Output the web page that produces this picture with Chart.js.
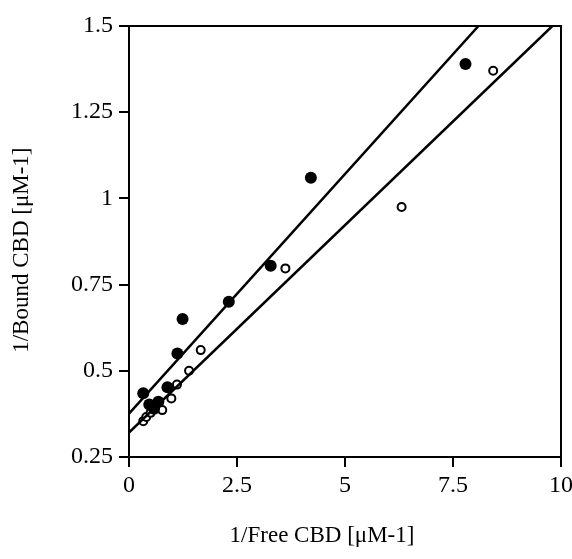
<!DOCTYPE html>
<html>
<head>
<meta charset="utf-8">
<script src="https://cdn.jsdelivr.net/npm/chart.js@4/dist/chart.umd.min.js"></script>
<style>
html,body{margin:0;padding:0;background:#fff;}
#wrap{width:572px;height:559px;position:relative;}
</style>
</head>
<body>
<div id="wrap"><canvas id="c" width="572" height="559"></canvas></div>
<script>
// Data
const filledX = [0.33, 0.47, 0.58, 0.68, 0.89, 1.12, 1.24, 2.31, 3.28, 4.21, 7.79];
const filledY = [0.435, 0.402, 0.39, 0.41, 0.452, 0.55, 0.65, 0.70, 0.805, 1.06, 1.39];
const openX = [0.33, 0.40, 0.50, 0.77, 0.98, 1.11, 1.39, 1.66, 3.62, 6.31, 8.43];
const openY = [0.354, 0.366, 0.378, 0.386, 0.42, 0.46, 0.50, 0.56, 0.797, 0.975, 1.37];
// fitted line endpoints (as drawn in the figure)
const lineFilledX = [0, 8.09];
const lineFilledY = [0.376, 1.5];
const lineOpenX = [0, 9.8];
const lineOpenY = [0.321, 1.5];
const xTickLabels = ['0', '2.5', '5', '7.5', '10'];
const yTickLabels = ['0.25', '0.5', '0.75', '1', '1.25', '1.5'];
const xTitle = '1/Free CBD [\u03bcM-1]        ';
const yTitle = '1/Bound CBD [\u03bcM-1]   ';

const pts = (xs, ys) => xs.map((x, i) => ({x: x, y: ys[i]}));
const FONT = 'Liberation Serif';

const frameAxis = (pos) => ({
  position: pos, min: pos === 'top' ? 0 : 0.25, max: pos === 'top' ? 10 : 1.5,
  ticks: {display: false},
  grid: {display: false, drawTicks: false},
  border: {display: true, color: '#000', width: 2},
  afterFit: s => { if (pos === 'top') s.height = 0; else s.width = 11; s.paddingLeft = s.paddingRight = s.paddingTop = s.paddingBottom = 0; }
});

new Chart(document.getElementById('c'), {
  type: 'scatter',
  data: {
    datasets: [
      {data: pts(lineFilledX, lineFilledY), showLine: true, borderColor: '#000', borderWidth: 2.5, pointRadius: 0, fill: false},
      {data: pts(lineOpenX, lineOpenY), showLine: true, borderColor: '#000', borderWidth: 2.5, pointRadius: 0, fill: false},
      {data: pts(filledX, filledY), pointRadius: 6, pointBackgroundColor: '#000', pointBorderColor: '#000', pointBorderWidth: 0},
      {data: pts(openX, openY), pointRadius: 4, pointBackgroundColor: '#fff', pointBorderColor: '#000', pointBorderWidth: 2}
    ]
  },
  options: {
    responsive: false,
    animation: false,
    layout: {padding: {top: 26, left: 0, right: 0, bottom: 0}},
    plugins: {legend: {display: false}, tooltip: {enabled: false}},
    scales: {
      x: {
        type: 'linear', position: 'bottom', min: 0, max: 10,
        afterBuildTicks: s => { s.ticks = xTickLabels.map(v => ({value: parseFloat(v)})); },
        ticks: {color: '#000', font: {family: FONT, size: 24}, padding: 4, maxRotation: 0,
                callback: (v, i) => xTickLabels[i]},
        grid: {display: true, drawOnChartArea: false, drawTicks: true, tickLength: 10, color: '#000', lineWidth: 2},
        border: {display: true, color: '#000', width: 2},
        title: {display: true, text: xTitle, color: '#000', font: {family: FONT, size: 23}, padding: {top: 0, bottom: 9}},
        afterFit: s => { s.height = 102; s.paddingLeft = 0; s.paddingRight = 0; }
      },
      y: {
        type: 'linear', position: 'left', min: 0.25, max: 1.5,
        afterBuildTicks: s => { s.ticks = yTickLabels.map(v => ({value: parseFloat(v)})); },
        ticks: {color: '#000', font: {family: FONT, size: 24}, padding: 6,
                callback: (v, i) => yTickLabels[i]},
        grid: {display: true, drawOnChartArea: false, drawTicks: true, tickLength: 10, color: '#000', lineWidth: 2},
        border: {display: true, color: '#000', width: 2},
        title: {display: true, text: yTitle, color: '#000', font: {family: FONT, size: 23}, padding: {top: 8, bottom: 0}},
        afterFit: s => { s.width = 129; s.paddingTop = 0; s.paddingBottom = 0; }
      },
      x2: frameAxis('top'),
      y2: frameAxis('right')
    }
  }
});
</script>
</body>
</html>
